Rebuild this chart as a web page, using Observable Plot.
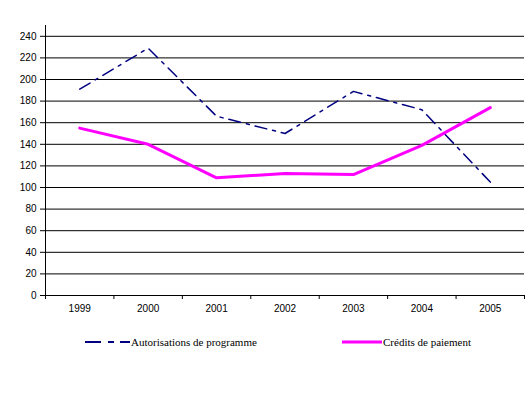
<!DOCTYPE html>
<html><head><meta charset="utf-8">
<script src="https://cdn.jsdelivr.net/npm/d3@7"></script>
<script src="https://cdn.jsdelivr.net/npm/@observablehq/plot@0.6"></script>
<style>
body{margin:0;background:#fff;}
#chart{position:relative;width:529px;height:394px;background:#fff;}
.leg{position:absolute;top:334px;height:16px;display:flex;align-items:center;font-family:'Liberation Serif','Times New Roman','DejaVu Serif',serif;font-size:11px;color:#000;white-space:nowrap;}
.leg span{font-family:'Liberation Serif','Times New Roman','DejaVu Serif',serif;}
.leg svg{display:block;margin-right:1px;}
</style></head><body><div id="chart"></div>
<script>
const years = [1999, 2000, 2001, 2002, 2003, 2004, 2005];
const autorisations = [191, 229, 166, 150, 189, 172, 105];
const credits = [155, 140, 109, 113, 112, 139, 174];
const yTicks = [0, 20, 40, 60, 80, 100, 120, 140, 160, 180, 200, 220, 240];
const seriesNames = ["Autorisations de programme", "Crédits de paiement"];
const seriesColors = ["#000080", "#FF00FF"];

const ap = years.map((y, i) => ({year: y, value: autorisations[i]}));
const cp = years.map((y, i) => ({year: y, value: credits[i]}));
const bounds = [...years.map(y => y - 0.5), years[years.length - 1] + 0.5];

const plot = Plot.plot({
  width: 529, height: 322,
  marginTop: 25, marginBottom: 27, marginLeft: 45, marginRight: 5,
  style: {fontFamily: "'Liberation Sans', Arial, sans-serif", fontSize: "10px", background: "white", color: "#000"},
  x: {domain: [years[0] - 0.5, years[years.length - 1] + 0.5]},
  y: {domain: [0, 250]},
  marks: [
    Plot.gridY(yTicks, {stroke: "#000", strokeOpacity: 1}),
    Plot.ruleX([years[0] - 0.5], {y1: 0, y2: 250, stroke: "#000"}),
    Plot.axisY(yTicks, {tickSize: 5, tickPadding: 4, tickFormat: d => String(d), label: null}),
    Plot.axisX(bounds, {tickSize: 4, tickFormat: () => "", label: null}),
    Plot.axisX(years, {tickSize: 0, tickPadding: 9, tickFormat: d => String(d), label: null}),
    Plot.line(ap, {x: "year", y: "value", stroke: seriesColors[0], strokeWidth: 1.5, strokeDasharray: "12,6,3,6"}),
    Plot.line(cp, {x: "year", y: "value", stroke: seriesColors[1], strokeWidth: 3})
  ]
});
const chart = document.getElementById("chart");
chart.appendChild(plot);

const legendPos = [85, 342];
const swatchW = [45, 40];
seriesNames.forEach((name, i) => {
  const d = document.createElement("div");
  d.className = "leg";
  d.style.left = legendPos[i] + "px";
  const dash = i === 0 ? 'stroke-dasharray="16,7,6,6" stroke-width="2"' : 'stroke-width="3"';
  d.innerHTML = `<svg width="${swatchW[i]}" height="6"><line x1="0" x2="${swatchW[i]}" y1="3" y2="3" stroke="${seriesColors[i]}" ${dash}/></svg><span>${name}</span>`;
  chart.appendChild(d);
});
</script>
</body></html>
